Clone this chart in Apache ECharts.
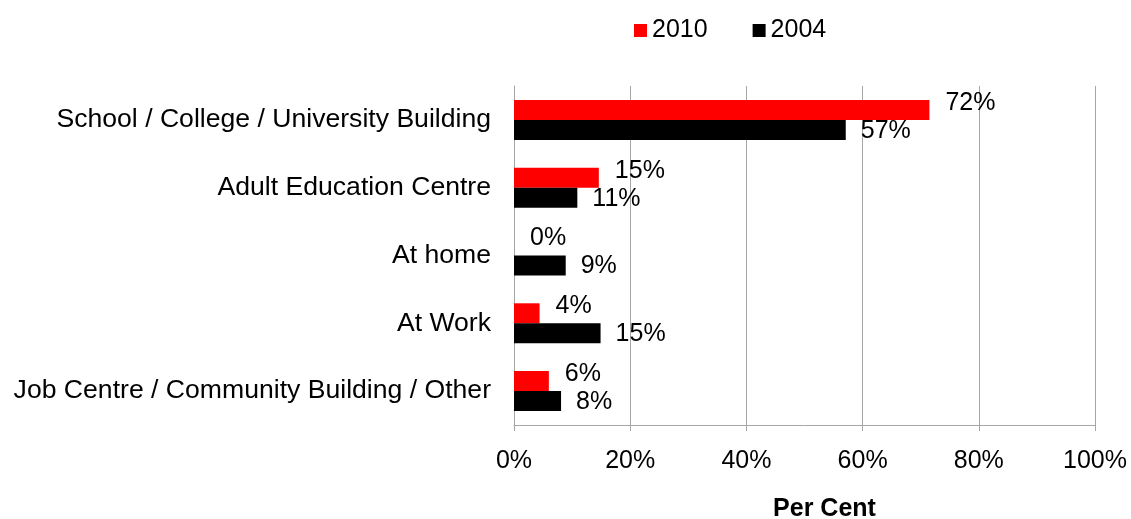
<!DOCTYPE html>
<html>
<head>
<meta charset="utf-8">
<script src="https://cdn.jsdelivr.net/npm/echarts@6/dist/echarts.min.js"></script>
<style>
    html, body { margin: 0; padding: 0; background: #fff; }
    #chart { width: 1131px; height: 519px; }
</style>
</head>
<body>
<div id="chart"></div>
<script>
// categories, top to bottom as in the picture
var categories = [
    'School / College / University Building',
    'Adult Education Centre',
    'At home',
    'At Work',
    'Job Centre / Community Building / Other'
];
var values2010 = [71.5, 14.6, 0, 4.4, 6.0];
var values2004 = [57.1, 10.9, 8.9, 14.9, 8.1];
var xTicks = [0, 20, 40, 60, 80, 100];

var fontName = '"Liberation Sans", Arial, sans-serif';
var gridColor = '#a6a6a6';

var chart = echarts.init(document.getElementById('chart'));

function pct(p) {
    return Math.round(p.value) + '%';
}

var option = {
    animation: false,
    textStyle: { fontFamily: fontName },
    color: ['#ff0000', '#000000'],
    legend: {
        data: ['2010', '2004'],
        left: 629,
        top: 13,
        icon: 'rect',
        itemWidth: 13,
        itemHeight: 13,
        itemGap: 45,
        textStyle: { fontSize: 25, color: '#000', fontFamily: fontName }
    },
    grid: { left: 514, right: 36, top: 86, bottom: 94, outerBoundsMode: 'none', containLabel: false },
    xAxis: {
        type: 'value',
        min: xTicks[0],
        max: xTicks[xTicks.length - 1],
        interval: 20,
        name: 'Per Cent',
        nameLocation: 'middle',
        nameGap: 72,
        nameTextStyle: { fontSize: 25, fontWeight: 'bold', color: '#000', padding: [0, 0, 0, 40] },
        axisLine: { show: true, lineStyle: { color: gridColor } },
        axisTick: { show: true, length: 6, lineStyle: { color: gridColor } },
        axisLabel: {
            fontSize: 25, color: '#000', margin: 24,
            formatter: function (v) { return v + '%'; }
        },
        splitLine: { show: true, lineStyle: { color: gridColor } }
    },
    yAxis: {
        type: 'category',
        data: categories,
        inverse: true,
        axisLine: { show: true, lineStyle: { color: gridColor } },
        axisTick: { show: false },
        axisLabel: { fontSize: 26.6, color: '#000', margin: 23 }
    },
    series: [
        {
            name: '2010',
            type: 'bar',
            data: values2010,
            barGap: '0%',
            barCategoryGap: '41%',
            label: {
                show: true, position: 'right', distance: 16, offset: [0, -7],
                fontSize: 25, color: '#000', formatter: pct
            }
        },
        {
            name: '2004',
            type: 'bar',
            data: values2004,
            label: {
                show: true, position: 'right', distance: 15, offset: [0, 1],
                fontSize: 25, color: '#000', formatter: pct
            }
        }
    ]
};

chart.setOption(option);
</script>
</body>
</html>
